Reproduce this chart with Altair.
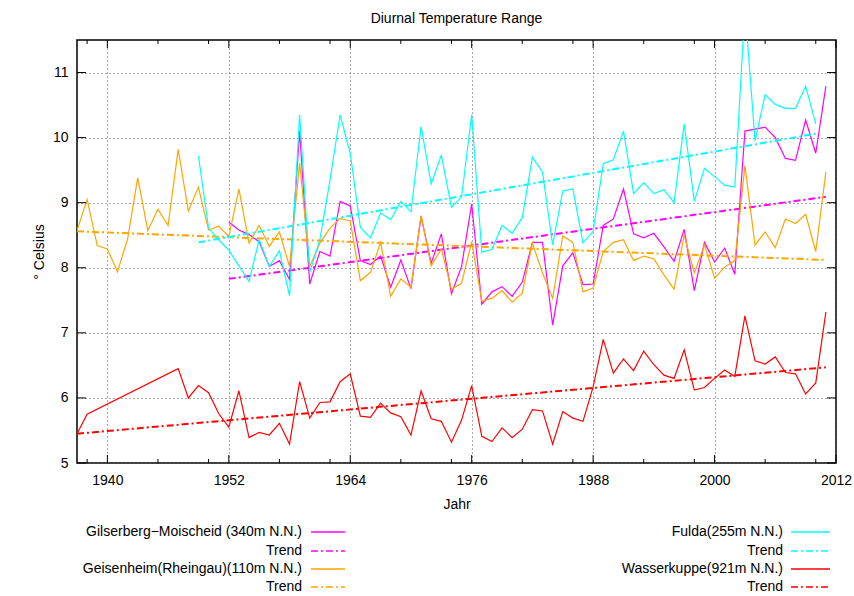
import altair as alt
import pandas as pd

# ---- data -----------------------------------------------------------------
geis_years = list(range(1937, 2012))
geis_vals = [8.57, 9.05, 8.34, 8.29, 7.94, 8.44, 9.38, 8.57, 8.90, 8.65,
             9.82, 8.87, 9.24, 8.58, 8.64, 8.48, 9.21, 8.38, 8.65, 8.33,
             8.55, 8.02, 9.61, 8.02, 8.38, 8.61, 8.76, 8.72, 7.80, 7.93,
             8.39, 7.56, 7.83, 7.70, 8.80, 8.03, 8.29, 7.67, 7.76, 8.40,
             7.49, 7.53, 7.65, 7.47, 7.61, 8.38, 7.92, 7.53, 8.49, 8.39,
             7.63, 7.69, 8.25, 8.39, 8.43, 8.11, 8.18, 8.14, 7.89, 7.67,
             8.50, 7.92, 8.35, 7.84, 8.01, 8.11, 9.57, 8.35, 8.55, 8.31,
             8.75, 8.68, 8.82, 8.25, 9.47]

gils_years = list(range(1952, 2012))
gils_vals = [8.70, 8.58, 8.51, 8.40, 8.02, 8.11, 7.82, 10.10, 7.75, 8.25,
             8.18, 9.02, 8.95, 8.11, 8.05, 8.18, 7.70, 8.12, 7.68, 8.79,
             8.07, 8.52, 7.60, 8.02, 8.98, 7.44, 7.63, 7.71, 7.56, 7.78,
             8.39, 8.39, 7.12, 8.03, 8.23, 7.74, 7.75, 8.65, 8.75, 9.21,
             8.52, 8.46, 8.53, 8.32, 8.10, 8.59, 7.65, 8.39, 8.09, 8.30,
             7.90, 10.10, 10.13, 10.16, 10.00, 9.68, 9.65, 10.27, 9.76, 10.79]

fulda_years = list(range(1949, 2011))
fulda_vals = [9.72, 8.61, 8.43, 8.27, 8.03, 7.79, 8.43, 8.02, 8.26, 7.57,
              10.35, 7.93, 8.43, 9.35, 10.35, 9.76, 8.62, 8.46, 8.84, 8.74,
              9.02, 8.86, 10.17, 9.29, 9.73, 8.93, 9.09, 10.35, 8.24, 8.28,
              8.65, 8.53, 8.77, 9.70, 9.47, 8.35, 9.18, 9.21, 8.38, 8.56,
              9.60, 9.66, 10.10, 9.14, 9.31, 9.14, 9.20, 9.00, 10.21, 9.02,
              9.53, 9.40, 9.27, 9.24, 12.00, 9.95, 10.66, 10.51, 10.45, 10.45,
              10.79, 10.21]

wasser_years = [1937, 1938] + list(range(1947, 2012))
wasser_vals = [5.45, 5.75, 6.45, 6.00, 6.19, 6.08, 5.76, 5.55, 6.11, 5.39,
               5.47, 5.43, 5.61, 5.29, 6.25, 5.69, 5.93, 5.94, 6.25, 6.37,
               5.72, 5.70, 5.92, 5.77, 5.71, 5.43, 6.11, 5.68, 5.64, 5.32,
               5.66, 6.19, 5.41, 5.33, 5.54, 5.39, 5.52, 5.82, 5.80, 5.29,
               5.79, 5.69, 5.64, 6.17, 6.90, 6.38, 6.60, 6.42, 6.72, 6.51,
               6.35, 6.30, 6.74, 6.12, 6.16, 6.30, 6.43, 6.33, 7.26, 6.57,
               6.52, 6.63, 6.39, 6.37, 6.06, 6.23, 7.32]

# linear trends: (first year, last year, value at first year, value at last year)
gils_trend = [1952, 2011, 7.83, 9.09]
geis_trend = [1937, 2011, 8.56, 8.12]
fulda_trend = [1949, 2010, 8.39, 10.06]
wasser_trend = [1937, 2011, 5.45, 6.47]

stations = ["Gilserberg−Moischeid (340m N.N.)", "Geisenheim(Rheingau)(110m N.N.)",
            "Fulda(255m N.N.)", "Wasserkuppe(921m N.N.)"]
colors = ["#ff00ff", "#ffa500", "#00ffff", "#ff0000"]

x_major = [1940, 1952, 1964, 1976, 1988, 2000, 2012]
x_minor = [1938, 1945, 1950, 1957, 1962, 1969, 1974, 1981, 1986, 1993, 1998, 2005, 2010]
y_major = [5, 6, 7, 8, 9, 10, 11]

# ---- tables ---------------------------------------------------------------
series = [(gils_years, gils_vals), (geis_years, geis_vals),
          (fulda_years, fulda_vals), (wasser_years, wasser_vals)]
trends = [gils_trend, geis_trend, fulda_trend, wasser_trend]

rows, trows = [], []
for name, (yrs, vals), tr in zip(stations, series, trends):
    for y, v in zip(yrs, vals):
        rows.append({"station": name, "year": y, "value": v})
    trows.append({"station": name, "year": tr[0], "value": tr[2]})
    trows.append({"station": name, "year": tr[1], "value": tr[3]})
df = pd.DataFrame(rows)
tdf = pd.DataFrame(trows)

W, H = 759, 423
FONT = "Liberation Sans"
FS = 14
DASHDOT = [7, 3, 2, 3]

xs = alt.Scale(domain=[1937, 2012], nice=False, zero=False)
ys = alt.Scale(domain=[5, 11.5], nice=False, zero=False)
cs = alt.Scale(domain=stations, range=colors)

x_axis = alt.Axis(title="Jahr", values=x_major, format="d", grid=True,
                  ticks=False, domain=False, labelPadding=10, titlePadding=10,
                  labelFlush=False)
y_axis = alt.Axis(title="° Celsius", values=y_major, grid=True, ticks=False,
                  domain=False, labelPadding=9, titlePadding=6)


def X(field="year"):
    return alt.X(f"{field}:Q", scale=xs, axis=x_axis, title="Jahr")


def Y(field="value"):
    return alt.Y(f"{field}:Q", scale=ys, axis=y_axis, title="° Celsius")


# one layer per station so the drawing order follows the station list
line_layers = []
for name in stations:
    line_layers.append(
        alt.Chart(df[df.station == name]).mark_line(strokeWidth=1.2, clip=True).encode(
            x=X(), y=Y(),
            color=alt.Color("station:N", scale=cs, legend=None),
        ))
    line_layers.append(
        alt.Chart(tdf[tdf.station == name]).mark_line(
            strokeWidth=2, strokeDash=DASHDOT, clip=True).encode(
            x=X(), y=Y(),
            color=alt.Color("station:N", scale=cs, legend=None),
        ))

# inward tick marks on all four sides
tx_major = pd.DataFrame({"year": x_major})
tx_minor = pd.DataFrame({"year": x_minor})
ty_major = pd.DataFrame({"value": y_major})


def xticks(tdata, length):
    bot = alt.Chart(tdata).mark_rule(color="black", strokeWidth=1).encode(
        x=X(), y=alt.value(H), y2=alt.value(H - length))
    top = alt.Chart(tdata).mark_rule(color="black", strokeWidth=1).encode(
        x=X(), y=alt.value(0), y2=alt.value(length))
    return [bot, top]


def yticks(tdata, length):
    left = alt.Chart(tdata).mark_rule(color="black", strokeWidth=1).encode(
        y=Y(), x=alt.value(0), x2=alt.value(length))
    right = alt.Chart(tdata).mark_rule(color="black", strokeWidth=1).encode(
        y=Y(), x=alt.value(W), x2=alt.value(W - length))
    return [left, right]


tick_layers = xticks(tx_major, 8) + xticks(tx_minor, 4) + yticks(ty_major, 9)

# key below the plot: label right-aligned, line sample to its right
one = pd.DataFrame({"k": [0]})
key_layers = []
col_text_x = [225, 706]
col_line_x = [(234, 268), (714, 753)]
row_y = [492, 511, 529, 547]
entries = [
    (0, 0, stations[0], colors[0], None),
    (0, 1, "Trend", colors[0], DASHDOT),
    (0, 2, stations[1], colors[1], None),
    (0, 3, "Trend", colors[1], DASHDOT),
    (1, 0, stations[2], colors[2], None),
    (1, 1, "Trend", colors[2], DASHDOT),
    (1, 2, stations[3], colors[3], None),
    (1, 3, "Trend", colors[3], DASHDOT),
]
for col, row, label, colr, dash in entries:
    key_layers.append(
        alt.Chart(one).mark_text(align="right", baseline="middle", font=FONT,
                                 fontSize=FS, color="black").encode(
            x=alt.value(col_text_x[col]), y=alt.value(row_y[row]),
            text=alt.value(label)))
    rule_kwargs = dict(color=colr, strokeWidth=1.5)
    if dash:
        rule_kwargs["strokeDash"] = dash
    key_layers.append(
        alt.Chart(one).mark_rule(**rule_kwargs).encode(
            x=alt.value(col_line_x[col][0]), x2=alt.value(col_line_x[col][1]),
            y=alt.value(row_y[row])))

chart = alt.layer(
    *line_layers, *tick_layers, *key_layers,
).properties(
    width=W, height=H,
    title=alt.TitleParams("Diurnal Temperature Range", font=FONT, fontSize=FS,
                          fontWeight="normal", anchor="middle", frame="group",
                          offset=14, color="black"),
    autosize=alt.AutoSizeParams(type="none"),
    padding={"left": 77, "top": 40, "right": 18, "bottom": 133},
    background="white",
).configure_view(
    stroke="black", strokeWidth=1.5,
).configure_axis(
    labelFont=FONT, labelFontSize=FS, labelColor="black",
    titleFont=FONT, titleFontSize=FS, titleFontWeight="normal", titleColor="black",
    gridColor="#555555", gridDash=[1, 3], gridWidth=1, gridOpacity=1,
)

chart.save("out.html", embed_options={"renderer": "svg", "actions": False})
